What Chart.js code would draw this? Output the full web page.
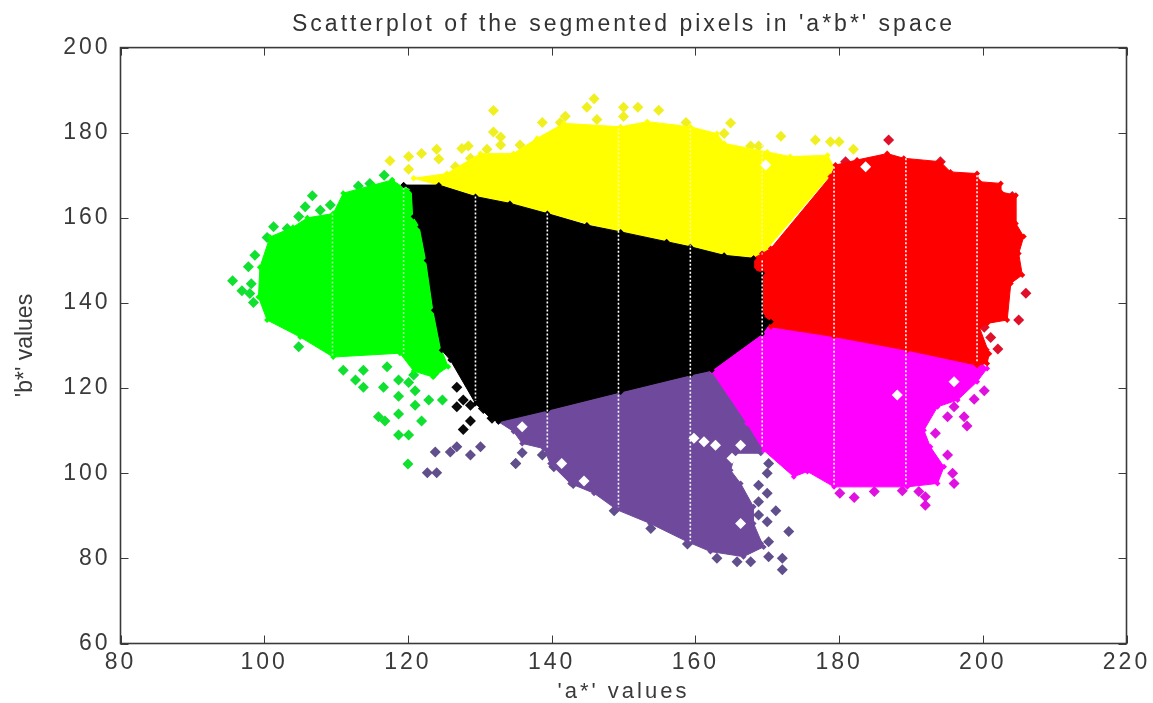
<!DOCTYPE html>
<html>
<head>
<meta charset="utf-8">
<style>html,body{margin:0;padding:0;background:#fff}canvas{display:block}</style>
<script src="https://cdn.jsdelivr.net/npm/chart.js@4/dist/chart.umd.min.js"></script>
</head>
<body>
<canvas id="c" width="1153" height="703"></canvas>
<script>
const chartTitle = "Scatterplot of the segmented pixels in 'a*b*' space";
const xTitle = "'a*' values";
const yTitle = "'b*' values";
const xTicks = [80,100,120,140,160,180,200,220];
const yTicks = [60,80,100,120,140,160,180,200];

const greenArea = [[117.8,168.9],[119.3,167.2],[120.6,166.5],[120.8,160.3],[121.7,157.9],[122.6,150],[123.6,138.3],[124.7,128.9],[125.6,125],[123.5,122.6],[120.8,124],[118.9,128.2],[109.6,127.3],[105,132],[100.4,136],[99.2,141.4],[99.4,148.4],[100.8,155.5],[104,157.8],[106,160],[109.6,161],[111,165.8],[115.2,167.7],[117.8,168.9]];
const greenDots = [[95.6,145.2],[96.9,142.9],[97.8,148.5],[98.7,151.2],[100.4,155.4],[98.5,140.1],[101.3,157.9],[103.2,157.5],[104.8,160.3],[105.7,162.6],[106.7,165.2],[107.8,161.8],[109.2,163],[113.1,167.5],[114.7,168.1],[116.7,170],[104.8,129.7],[111,124.2],[113.8,124.2],[112.7,121.9],[113.8,120.2],[116.6,120.2],[118.7,121.9],[120.1,121.3],[121,119.4],[118.7,118.1],[122.9,117.2],[124.8,117.2],[121,116],[115.9,113.3],[116.8,112.3],[118.7,113.9],[121.9,112.3],[118.7,109],[120.1,109],[120,102.2],[117.1,125],[123.6,123.4],[120.8,123.1],[98.2,144.5],[98,142.2]];

const blackArea = [[119.4,167.7],[124.3,167.7],[129.4,165],[134.2,163.4],[139.4,161],[144.9,158.3],[149.6,156.7],[156,154.4],[159.3,153.2],[164,151.2],[168.1,150.5],[168.1,147.7],[169.3,147],[169.3,137],[170.5,135.6],[169.3,132.8],[162.3,124.2],[159.3,123.1],[149.6,119.1],[139.4,114.8],[132.6,112.1],[131.5,112.9],[129.4,116.4],[125.9,126.6],[124.7,128.9],[123.6,138.3],[122.6,150],[121.7,157.9],[120.8,160.3],[120.6,166.5],[119.4,167.7]];
const blackDots = [[126.8,120.2],[127.7,117.2],[126.8,115.6],[128.7,116],[130.5,115.2],[128.7,112.3],[127.7,110.3],[131.7,112.9]];

const yellowArea = [[120.8,169.3],[125.4,170.4],[130.1,175.1],[134.7,175.1],[138,178.7],[141.7,182.2],[149.6,181.4],[153.3,182.6],[159.3,181.4],[163,179.8],[164,177.5],[170,175.5],[173.2,174.4],[178.4,174.7],[179.3,172],[178.6,169.7],[169.8,152.4],[169.3,150.5],[168.1,150.5],[164,151.2],[159.3,153.2],[149.6,156.7],[139.4,161],[129.4,165],[124.3,167.7],[120.8,169.3]];
const yellowDots = [[131.9,185.2],[131.9,180.2],[132.9,179],[132.9,177.1],[135.6,177.1],[128.4,176.9],[127.5,176.3],[131,176.1],[124,176.1],[121.9,175.1],[120.1,174.4],[117.5,173.4],[124.3,173.8],[120.1,171.4],[126.6,172],[128.7,174],[145.9,188],[144.9,186],[150,186],[152,186],[154.9,185.3],[141.9,183.9],[146.3,183.1],[150,183.8],[138.7,182.4],[141.2,182.4],[158.7,182.4],[138,177.9],[164.9,182.3],[164,179.8],[171.9,179.2],[176.7,178.3],[178.8,177.9],[180,177.9],[182,176.1],[167.7,176.9],[168.8,176.9]];

const redArea = [[169.3,151.6],[170.5,152.8],[178.8,169.7],[179.5,172.4],[182.5,173.6],[186.7,175.1],[189,174],[194.1,173.2],[195.5,170.8],[199.2,170.4],[199.5,168.5],[202.5,168.1],[202.5,166.1],[204.6,165.3],[204.6,158.7],[205.7,155.6],[205,151.6],[205.5,146.6],[203.9,144.6],[203.4,136],[200.6,135.2],[199.5,134.4],[200.9,128.1],[200.6,125.8],[199.2,125.4],[189.5,128.9],[179.3,132.1],[170.5,134.4],[169.3,136],[169.3,147],[168.1,147.7],[168.1,150.5],[169.3,151.6]];
const redDots = [[186.9,178.3],[206,142.3],[205,136],[200.2,134.3],[201.1,131.9],[202.1,129.2],[200.2,129],[180.9,173.2],[194.1,173.2],[204.1,165]];

const magentaArea = [[169.5,135.5],[179.3,133.5],[189.5,131],[198.8,127.5],[200.6,124.6],[199.2,121.5],[196.5,117.2],[193.7,115.6],[191.8,110.1],[192.7,106.2],[194.6,101.5],[193.7,97.6],[189.5,96.8],[179.3,96.8],[175.6,100.4],[173.7,99.2],[169.5,105.4],[167.2,111.7],[162.3,123.9],[163.3,126.2],[169.5,135.5]];
const magentaDots = [[198.8,117.4],[200.2,119.4],[195.1,113.3],[196,115.6],[197.8,111.1],[197.4,113.3],[193.4,109.4],[196,97.6],[195.8,100],[195.1,104.3],[180.1,95.3],[182.1,94.3],[184.9,95.7],[188.8,95.9],[191.1,95.7],[192,92.5],[192,94.5]];

const purpleArea = [[162.3,124.2],[159.3,123.1],[149.6,119.1],[139.4,114.8],[132.6,112.1],[134.7,109.8],[135.9,107],[138.9,105.8],[139.8,102.3],[142.6,97.6],[145.9,95.3],[149.1,91.4],[153.7,88.2],[158.9,83.9],[162.1,81.6],[166.7,80.4],[169.5,82.7],[168.1,88.2],[168.1,92.1],[166.3,97.6],[164.9,100.7],[165.6,104.7],[169.1,104.7],[169.5,105.8],[162.3,124.2]];
const purpleDots = [[170.2,102.3],[170,100],[168.8,97.2],[170,95.3],[168.8,93.3],[168.8,90.2],[171.2,91.2],[170,88.6],[173,86.3],[170.2,83.9],[168.8,83.5],[170.2,80.4],[172.1,80],[172.1,77.3],[165.8,79.2],[167.7,79.2],[163,80],[158.9,83.4],[153.8,87],[148.7,91.2],[135,102.3],[135.9,104.8],[138.7,104.3],[140.3,101.5],[143,97.6],[123.8,105],[125.9,105],[126.8,106.2],[128.7,104.3],[130.1,106.2],[122.7,100.1],[124,100.1],[135,102.3]];

const holeDots = [[159.8,108.2],[161.2,107.4],[162.8,106.6],[166.3,106.6],[165.1,103.5],[135.9,110.9],[141.4,102.3],[144.5,98.2],[166.3,88.2],[188.1,118.4],[196,121.5],[169.8,172.4],[183.7,172]];

const gapColumns = [129.4,139.4,149.3,159.3,169.3,179.3,189.3,199.2];
const gapTops = [165,161,157,153,150,172,174,170];
const gapBottoms = [117,106,92,84,106,97,97,126];
const faintColumns = [109.5,119.4,149.3,159.3,169.3];
const faintTops = [161,167,181,181,180];
const faintBottoms = [127.5,128,157,153,151];

const AXIS = '#3a3a3a', FONT = '"Liberation Sans", Arial, sans-serif';

function columnLines(cols, tops, bottoms) {
  const out = [];
  cols.forEach((a, i) => {
    out.push({x: a, y: tops[i]}, {x: a, y: bottoms[i]}, {x: a, y: null});
  });
  return out;
}
const toPts = list => list.map(p => ({x: p[0], y: p[1]}));
function area(list, color, order) {
  return {type: 'scatter', data: toPts(list), showLine: true, fill: 'shape', tension: 0,
    backgroundColor: color, borderColor: color, borderWidth: 1, pointStyle: 'rectRot',
    pointRadius: 3, pointBackgroundColor: color, pointBorderWidth: 0, order: order};
}
function dots(list, color, order) {
  return {type: 'scatter', data: toPts(list), showLine: false, pointStyle: 'rectRot',
    pointRadius: 5.5, pointBackgroundColor: color, pointBorderWidth: 0, order: order};
}
function whiteLine(cols, tops, bottoms, color, order) {
  return {type: 'scatter', data: columnLines(cols, tops, bottoms), showLine: true, spanGaps: false,
    borderColor: color, borderWidth: 1.6, borderDash: [2, 2], pointRadius: 0, order: order};
}

const boxPlugin = {
  id: 'box',
  beforeLayout(chart) { chart.ctx.letterSpacing = '3px'; },
  beforeDraw(chart) {
    chart.ctx.letterSpacing = '3px';
    const y = chart.scales.y;
    if (!y._wrapped) {
      const orig = y.drawTitle.bind(y);
      y.drawTitle = function () {
        chart.ctx.letterSpacing = '0px';
        orig();
        chart.ctx.letterSpacing = '3px';
      };
      y._wrapped = true;
    }
  },
  afterDatasetsDraw(chart) {
    const {ctx, chartArea: a, scales} = chart;
    const T = 8;
    ctx.save();
    ctx.strokeStyle = AXIS;
    ctx.lineWidth = 1;
    ctx.beginPath();
    xTicks.forEach(v => {
      const p = Math.round(scales.x.getPixelForValue(v)) + 0.5;
      ctx.moveTo(p, a.bottom); ctx.lineTo(p, a.bottom - T);
      ctx.moveTo(p, a.top); ctx.lineTo(p, a.top + T);
    });
    yTicks.forEach(v => {
      const p = Math.round(scales.y.getPixelForValue(v)) + 0.5;
      ctx.moveTo(a.left, p); ctx.lineTo(a.left + T, p);
      ctx.moveTo(a.right, p); ctx.lineTo(a.right - T, p);
    });
    ctx.stroke();
    ctx.lineWidth = 1.6;
    ctx.strokeRect(a.left, a.top, a.right - a.left, a.bottom - a.top);
    ctx.restore();
  }
};

new Chart(document.getElementById('c'), {
  type: 'scatter',
  plugins: [boxPlugin],
  data: {datasets: [
    whiteLine(gapColumns, gapTops, gapBottoms, '#ffffff', 0),
    whiteLine(faintColumns, faintTops, faintBottoms, 'rgba(255,255,255,0.6)', 0),
    dots(holeDots, '#ffffff', 1),
    area(blackArea, '#000000', 2),
    dots(blackDots, '#0a0a0a', 3),
    area(redArea, '#ff0000', 4),
    area(magentaArea, '#ff00ff', 5),
    area(purpleArea, '#6f4a9c', 6),
    area(yellowArea, '#ffff00', 7),
    area(greenArea, '#00ff00', 8),
    dots(redDots, '#e0102a', 9),
    dots(magentaDots, '#e010e0', 9),
    dots(purpleDots, '#604f8c', 9),
    dots(yellowDots, '#f0f020', 9),
    dots(greenDots, '#10e030', 9)
  ]},
  options: {
    responsive: false, animation: false,
    devicePixelRatio: 1,
    layout: {padding: {left: 0, right: 26.5, top: 0, bottom: 0}},
    plugins: {
      legend: {display: false},
      tooltip: {enabled: false},
      title: {display: true, text: chartTitle, fullSize: false, color: '#333',
        font: {family: FONT, size: 23, weight: 'normal'}, padding: {top: 11, bottom: 9}}
    },
    scales: {
      x: {
        type: 'linear', min: 80, max: 220,
        afterFit(s) { s.height = 59.5; s.paddingLeft = 0; s.paddingRight = 0; },
        grid: {display: false, drawTicks: false}, border: {display: false},
        afterBuildTicks(s) { s.ticks = xTicks.map(v => ({value: v})); },
        ticks: {color: AXIS, font: {family: FONT, size: 23}, padding: 5, maxRotation: 0, autoSkip: false},
        title: {display: true, text: xTitle, color: AXIS, font: {family: FONT, size: 22}, padding: {top: 0, bottom: -2}}
      },
      y: {
        type: 'linear', min: 60, max: 200,
        afterFit(s) { s.width = 120.5; },
        grid: {display: false, drawTicks: false}, border: {display: false},
        afterBuildTicks(s) { s.ticks = yTicks.map(v => ({value: v})); },
        ticks: {color: AXIS, font: {family: FONT, size: 23}, padding: 10, autoSkip: false},
        title: {display: true, text: yTitle, color: AXIS, font: {family: FONT, size: 23}, padding: {top: 12, bottom: 0}}
      }
    }
  }
});
</script>
</body>
</html>
